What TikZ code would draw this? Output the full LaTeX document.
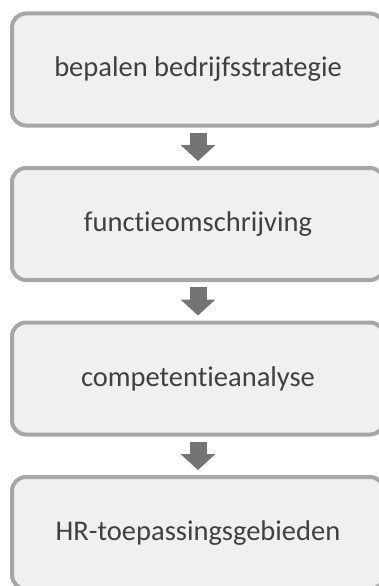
\documentclass[tikz,border=0pt]{standalone}
\usepackage{fontspec}
\setmainfont[Ligatures={NoCommon,NoContextual}]{Carlito}
\usetikzlibrary{arrows.meta, positioning}
\definecolor{ink}{HTML}{404040}
\definecolor{boxline}{HTML}{A6A6A6}
\definecolor{boxbg}{HTML}{F0F0F0}
\definecolor{arrowfill}{HTML}{747474}
\tikzset{
  box/.style={
    draw=boxline,
    fill=boxbg,
    rounded corners=14pt,
    line width=4pt,
    outer sep=0pt,
    minimum width=372pt,
    minimum height=112pt,
    align=center,
    text=ink,
    font=\fontsize{28.5}{34}\selectfont
  },
  blockarrow/.style={
    -{Triangle[width=34pt, length=16pt]},
    line width=17pt,
    draw=arrowfill,
    shorten <=7pt,
    shorten >=7pt
  }
}
\begin{document}
\begin{tikzpicture}[x=1pt, y=1pt, node distance=42.5pt]
\useasboundingbox (0,0) rectangle (378,-586);

\node[box] (strategy) at (198,-69.5) {bepalen bedrijfsstrategie};
\node[box, below=of strategy] (description) {functieomschrijving};
\node[box, below=of description] (analysis) {competentieanalyse};
\node[box, below=of analysis] (hrfields) {HR-toepassingsgebieden};

\draw[blockarrow] (strategy) -- (description);
\draw[blockarrow] (description) -- (analysis);
\draw[blockarrow] (analysis) -- (hrfields);

\end{tikzpicture}
\end{document}
